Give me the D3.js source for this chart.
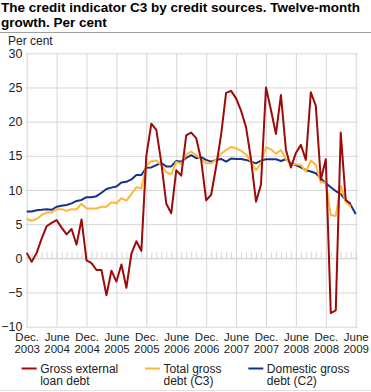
<!DOCTYPE html>
<html><head><meta charset="utf-8">
<script src="https://cdn.jsdelivr.net/npm/d3@7"></script>
<style>
body{margin:0;background:#fff}
svg{display:block;font-family:"Liberation Sans",Arial,Helvetica,sans-serif}
</style>
</head><body>
<svg id="chart" width="371" height="392"></svg>
<script>
// ---- data (monthly, Dec 2003 = index 0) ----
const titleLines = ["The credit indicator C3 by credit sources. Twelve-month", "growth. Per cent"];
const yUnit = "Per cent";
const yTicks = [-10, -5, 0, 5, 10, 15, 20, 25, 30];
const xTickIndex = [0, 6, 12, 18, 24, 30, 36, 42, 48, 54, 60, 66];
const xTickMonth = ["Dec.", "June", "Dec.", "June", "Dec.", "June", "Dec.", "June", "Dec.", "June", "Dec.", "June"];
const xTickYear = ["2003", "2004", "2004", "2005", "2005", "2006", "2006", "2007", "2007", "2008", "2008", "2009"];
const seriesNames = [["Gross external", "loan debt"], ["Total gross", "debt (C3)"], ["Domestic gross", "debt (C2)"]];
const seriesColors = ["#9c0a0a", "#ffb73a", "#16318a"];

const grossExternal = [0.8, -0.5, 0.8, 2.9, 4.7, 5.2, 5.6, 4.5, 3.5, 4.3, 2.0, 5.7,
  -0.3, -0.7, -1.7, -1.7, -5.4, -1.8, -3.4, -0.9, -4.3, 0.7, 2.5, 1.1,
  15.0, 19.7, 18.8, 14.0, 8.0, 6.6, 12.9, 12.1, 18.0, 18.4, 17.6, 14.4,
  8.5, 9.3, 13.4, 18.1, 24.2, 24.5, 23.4, 21.6, 19.2, 14.5, 8.3, 10.8,
  25.0, 21.7, 18.2, 23.9, 15.9, 13.3, 15.4, 16.6, 14.4, 24.3, 22.3, 11.5,
  14.5, -8.0, -7.6, 18.4, 8.5, 8.0];
const totalGross = [5.75, 5.5, 5.75, 6.35, 6.7, 6.7, 7.2, 7.2, 6.95, 7.2, 7.15, 8.0,
  7.3, 7.3, 7.3, 7.55, 7.55, 8.2, 8.05, 8.8, 8.45, 9.4, 10.4, 10.2,
  13.6, 14.2, 14.3, 13.65, 12.6, 12.3, 14.1, 13.85, 15.2, 15.6, 15.1, 14.5,
  13.9, 13.9, 14.4, 15.3, 15.85, 16.3, 16.1, 15.75, 15.2, 14.2, 12.9, 13.9,
  16.25, 15.95, 15.3, 15.85, 14.5, 13.75, 13.75, 13.65, 12.7, 14.3, 13.65, 11.1,
  11.1, 6.35, 6.2, 10.6, 8.3, 7.55];
const domesticGross = [6.85, 6.85, 7.05, 7.1, 7.2, 7.1, 7.55, 7.7, 7.8, 8.05, 8.4, 8.55,
  8.95, 8.95, 9.1, 9.6, 10.15, 10.35, 10.5, 11.1, 11.2, 11.55, 12.2, 12.2,
  13.25, 13.3, 13.65, 13.95, 13.45, 13.45, 14.25, 14.15, 14.7, 15.1, 14.65, 14.8,
  14.4, 14.15, 14.4, 14.55, 14.15, 14.6, 14.55, 14.55, 14.4, 14.15, 13.9, 14.3,
  14.5, 14.5, 14.5, 14.25, 14.5, 13.9, 13.65, 13.3, 12.9, 12.7, 12.45, 11.7,
  11.0, 10.4, 9.85, 9.4, 8.55, 7.8, 6.5];

// ---- layout ----
const svg = d3.select("#chart");
const W = 371, H = 392;
const plotL = 25.5, plotR = 358, plotT = 53.3, plotB = 326.7;
const x = d3.scaleLinear().domain([0, 66]).range([26.7, 355.7]);
const y = d3.scaleLinear().domain([-10, 30]).range([plotB, plotT]);
const gridColor = "#d6d6d6";

// title
const t = svg.append("text").attr("x", 1).attr("font-weight", "bold").attr("font-size", 13.5).attr("fill", "#000");
titleLines.forEach((l, i) => t.append("tspan").attr("x", 1).attr("y", 12 + i * 14.5).text(l));
svg.append("line").attr("x1", 0).attr("x2", W).attr("y1", 32.5).attr("y2", 32.5).attr("stroke", "#a0a0a0").attr("stroke-width", 1);
svg.append("text").attr("x", 8).attr("y", 44.5).attr("font-size", 12).attr("fill", "#222").text(yUnit);

// y axis with horizontal grid
const yAxis = svg.append("g").attr("transform", `translate(${plotL},0)`)
  .call(d3.axisLeft(y).tickValues(yTicks).tickSize(-(plotR - plotL)).tickPadding(3).tickFormat(d3.format("d")));
yAxis.select(".domain").remove();
yAxis.selectAll(".tick line").attr("stroke", gridColor).attr("stroke-width", 1);
yAxis.selectAll(".tick text").attr("font-size", 12.5).attr("fill", "#222").attr("font-family", "Liberation Sans, Arial, sans-serif");

// x axis with vertical grid (labels drawn as two separate text rows)
const xAxis = svg.append("g").attr("transform", `translate(0,${plotB})`)
  .call(d3.axisBottom(x).tickValues(xTickIndex).tickSize(-(plotB - plotT)).tickPadding(0).tickFormat(() => ""));
xAxis.select(".domain").remove();
xAxis.selectAll(".tick line").attr("stroke", gridColor).attr("stroke-width", 1);
xAxis.selectAll(".tick text").remove();
xAxis.selectAll(".tick").each(function(d, i) {
  const g = d3.select(this);
  g.append("text").attr("text-anchor", "middle").attr("font-size", 11.5).attr("fill", "#222")
    .attr("y", 14).text(xTickMonth[i]);
  g.append("text").attr("text-anchor", "middle").attr("font-size", 11.5).attr("fill", "#222")
    .attr("y", 26).text(xTickYear[i]);
});

// zero line with monthly ticks
const zeroAxis = svg.append("g").attr("transform", `translate(0,${y(0)})`)
  .call(d3.axisTop(x).tickValues(d3.range(0, 67)).tickSize(6).tickFormat(() => ""));
zeroAxis.select(".domain").remove();
zeroAxis.selectAll(".tick line").attr("stroke", gridColor);
svg.append("line").attr("x1", plotL).attr("x2", plotR).attr("y1", y(0)).attr("y2", y(0)).attr("stroke", gridColor);

// lines
const line = d3.line().x((d, i) => x(i)).y(d => y(d));
const data = [domesticGross, totalGross, grossExternal];
const colorsDraw = [seriesColors[2], seriesColors[1], seriesColors[0]];
data.forEach((s, k) => {
  svg.append("path").datum(s).attr("d", line).attr("fill", "none")
    .attr("stroke", colorsDraw[k]).attr("stroke-width", 2).attr("stroke-linejoin", "round");
});

// legend
const legX = [21.7, 145, 248.3];
seriesNames.forEach((nm, i) => {
  svg.append("line").attr("x1", legX[i]).attr("x2", legX[i] + 15).attr("y1", 368.5).attr("y2", 368.5)
    .attr("stroke", seriesColors[i]).attr("stroke-width", 2);
  const tx = svg.append("text").attr("font-size", 12).attr("fill", "#222");
  nm.forEach((l, j) => tx.append("tspan").attr("x", legX[i] + 18.5).attr("y", 372.5 + j * 12.5).text(l));
});
svg.append("line").attr("x1", 0).attr("x2", W).attr("y1", 390.5).attr("y2", 390.5).attr("stroke", "#e0e0e0");
</script>
</body></html>
